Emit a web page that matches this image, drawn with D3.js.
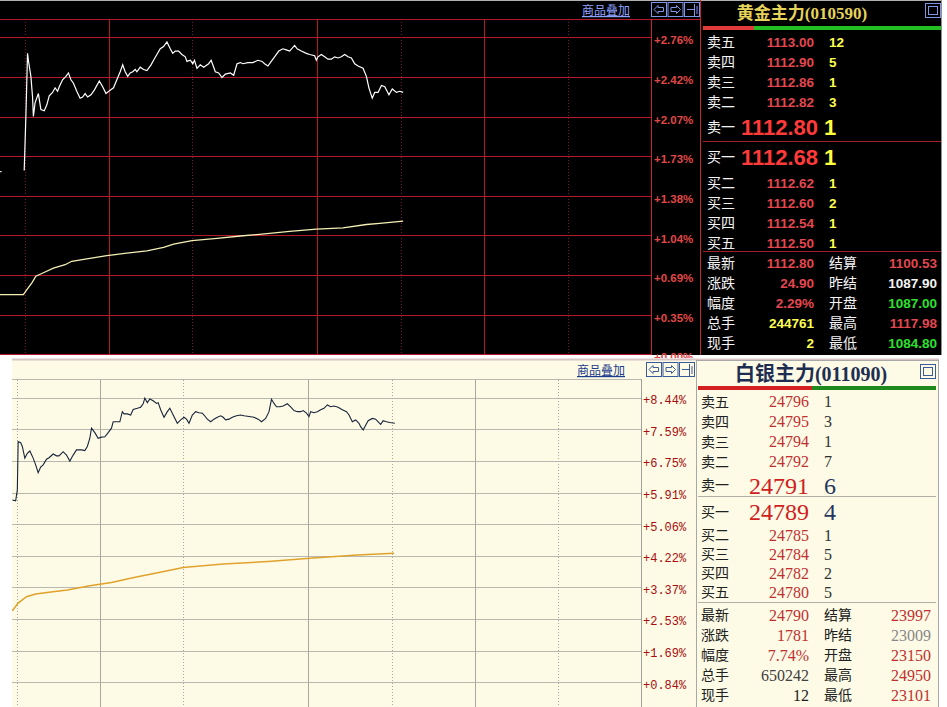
<!DOCTYPE html>
<html><head><meta charset="utf-8">
<script src="https://cdn.jsdelivr.net/npm/d3@7"></script>
<style>body{margin:0;background:#fff;overflow:hidden}svg{display:block}</style>
</head><body>
<svg id="c" width="947" height="707"></svg>
<script>
// ================= DATA =================
const timeDomain = [0, 780];
const majorTimes = [130, 380, 580];
const minorTimes = [30, 230, 480, 680];

// 黄金主力 (gold) – percent change vs. previous settlement
const goldTickValues = [0, 0.345, 0.69, 1.035, 1.38, 1.725, 2.07, 2.415, 2.76];
const goldTickLabels = ["+0.00%","+0.35%","+0.69%","+1.04%","+1.38%","+1.73%","+2.07%","+2.42%","+2.76%"];
const goldPre = [[0,1.59],[2,1.59]];
const goldPrice = [[29,1.60],[31,2.07],[33,2.62],[34,2.56],[37,2.42],[39,2.24],[40,2.07],[42,2.19],[46,2.27],[49,2.13],[53,2.12],[56,2.17],[59,2.25],[63,2.28],[66,2.32],[69,2.29],[71,2.33],[75,2.39],[79,2.42],[82,2.45],[85,2.39],[88,2.36],[92,2.29],[96,2.23],[99,2.24],[102,2.27],[105,2.24],[109,2.26],[113,2.30],[119,2.38],[123,2.33],[127,2.27],[132,2.30],[136,2.32],[140,2.39],[144,2.46],[147,2.52],[150,2.46],[153,2.42],[156,2.45],[159,2.46],[162,2.48],[164,2.46],[168,2.50],[172,2.48],[176,2.47],[181,2.52],[184,2.56],[188,2.61],[192,2.66],[196,2.68],[200,2.72],[204,2.66],[207,2.62],[210,2.64],[214,2.64],[218,2.61],[222,2.59],[224,2.55],[228,2.56],[231,2.53],[233,2.56],[236,2.49],[240,2.52],[244,2.50],[250,2.53],[253,2.56],[258,2.46],[262,2.45],[266,2.41],[270,2.44],[276,2.45],[280,2.43],[284,2.53],[288,2.54],[291,2.53],[297,2.54],[303,2.54],[309,2.56],[314,2.55],[317,2.53],[321,2.51],[325,2.55],[329,2.59],[334,2.64],[339,2.66],[343,2.65],[347,2.64],[353,2.69],[356,2.66],[361,2.64],[367,2.62],[371,2.61],[377,2.60],[379,2.56],[381,2.59],[385,2.61],[389,2.59],[393,2.57],[397,2.57],[401,2.59],[405,2.58],[409,2.59],[413,2.61],[417,2.59],[421,2.58],[425,2.53],[429,2.51],[435,2.49],[439,2.42],[442,2.32],[446,2.23],[449,2.28],[453,2.28],[457,2.34],[461,2.33],[466,2.26],[470,2.31],[475,2.28],[479,2.29],[483,2.28]];
const goldAvg = [[0,0.52],[28,0.52],[32,0.56],[38,0.62],[43,0.68],[52,0.71],[64,0.75],[78,0.78],[86,0.81],[104,0.83],[128,0.86],[152,0.88],[176,0.90],[196,0.93],[208,0.96],[230,0.99],[260,1.01],[288,1.03],[320,1.05],[347,1.07],[379,1.09],[411,1.10],[439,1.13],[455,1.14],[483,1.16]];

const goldName = "黄金主力(010590)";
const goldAskLabels = ["卖五","卖四","卖三","卖二"];
const goldAskPrices = ["1113.00","1112.90","1112.86","1112.82"];
const goldAskVols = ["12","5","1","3"];
const goldAsk1 = ["卖一","1112.80","1"];
const goldBid1 = ["买一","1112.68","1"];
const goldBidLabels = ["买二","买三","买四","买五"];
const goldBidPrices = ["1112.62","1112.60","1112.54","1112.50"];
const goldBidVols = ["1","2","1","1"];
const goldStatLabelsL = ["最新","涨跌","幅度","总手","现手"];
const goldStatValuesL = ["1112.80","24.90","2.29%","244761","2"];
const goldStatLabelsR = ["结算","昨结","开盘","最高","最低"];
const goldStatValuesR = ["1100.53","1087.90","1087.00","1117.98","1084.80"];

// 白银主力 (silver)
const silverTickValues = [0.844,1.688,2.532,3.376,4.22,5.064,5.908,6.752,7.596,8.44];
const silverTickLabels = ["+0.84%","+1.69%","+2.53%","+3.37%","+4.22%","+5.06%","+5.91%","+6.75%","+7.59%","+8.44%"];
const silverPrice = [[25,5.71],[29,5.69],[31,5.98],[32,7.27],[35,7.24],[37,7.14],[40,6.83],[43,6.96],[46,7.02],[50,6.83],[53,6.65],[56,6.44],[59,6.59],[62,6.65],[66,6.80],[69,6.84],[74,6.94],[78,6.89],[81,6.89],[86,7.00],[90,6.91],[94,6.75],[98,6.91],[102,7.05],[108,7.05],[112,7.03],[115,7.14],[118,7.36],[120,7.63],[124,7.51],[128,7.36],[132,7.39],[136,7.40],[140,7.51],[144,7.63],[146,7.80],[150,7.80],[154,7.80],[157,8.07],[159,8.01],[163,8.01],[167,7.98],[170,8.13],[175,8.16],[179,8.19],[182,8.28],[184,8.43],[187,8.31],[190,8.41],[194,8.36],[198,8.29],[200,8.31],[203,8.12],[207,7.92],[211,8.07],[214,8.16],[218,7.98],[223,7.76],[227,7.85],[231,7.92],[234,7.87],[237,7.76],[241,7.98],[245,8.07],[249,8.04],[253,8.03],[255,7.98],[259,7.87],[263,7.80],[267,7.87],[271,7.92],[275,7.96],[278,7.92],[281,7.85],[285,7.87],[289,7.92],[294,7.96],[299,7.98],[303,7.96],[309,7.94],[315,7.92],[320,7.87],[324,7.80],[329,7.89],[333,8.07],[336,8.40],[339,8.29],[342,8.20],[346,8.20],[350,8.22],[355,8.28],[359,8.20],[363,8.10],[367,8.07],[371,8.07],[374,8.10],[378,8.03],[381,7.94],[383,8.07],[387,8.04],[391,8.07],[395,8.12],[399,8.16],[403,8.25],[407,8.20],[411,8.22],[416,8.19],[421,8.12],[426,8.07],[429,7.98],[433,7.80],[437,7.85],[441,7.76],[443,7.67],[446,7.58],[449,7.71],[452,7.83],[457,7.89],[461,7.87],[464,7.80],[467,7.73],[470,7.83],[474,7.80],[478,7.78],[484,7.76]];
const silverAvg = [[25,2.75],[32,2.96],[42,3.13],[53,3.20],[69,3.25],[91,3.31],[118,3.42],[144,3.51],[171,3.64],[198,3.76],[230,3.91],[278,4.00],[332,4.07],[386,4.16],[439,4.24],[483,4.29]];

const silverName = "白银主力(011090)";
const silverAskLabels = ["卖五","卖四","卖三","卖二"];
const silverAskPrices = ["24796","24795","24794","24792"];
const silverAskVols = ["1","3","1","7"];
const silverAsk1 = ["卖一","24791","6"];
const silverBid1 = ["买一","24789","4"];
const silverBidLabels = ["买二","买三","买四","买五"];
const silverBidPrices = ["24785","24784","24782","24780"];
const silverBidVols = ["1","5","2","5"];
const silverStatLabelsL = ["最新","涨跌","幅度","总手","现手"];
const silverStatValuesL = ["24790","1781","7.74%","650242","12"];
const silverStatLabelsR = ["结算","昨结","开盘","最高","最低"];
const silverStatValuesR = ["23997","23009","23150","24950","23101"];

// ================= DRAW =================
const svg = d3.select("#c");
const CJK = "'Noto Sans CJK SC','Noto Sans',sans-serif";
const SANS = "'Liberation Sans',Arial,sans-serif";
const SERIF = "'Liberation Serif','Times New Roman',serif";
const MONO = "'Liberation Mono','DejaVu Sans Mono',monospace";

function icons(g, x, y, stroke, bg) {
  for (let i = 0; i < 3; i++) {
    const bx = x + i * 16.5;
    g.append("rect").attr("x", bx + 0.5).attr("y", y + 0.5).attr("width", 15).attr("height", 14)
      .attr("fill", bg).attr("stroke", stroke).attr("stroke-width", 1);
    let p;
    if (i === 0) p = `M${bx+3},${y+7.5} L${bx+7},${y+3.5} L${bx+7},${y+5.5} L${bx+12.5},${y+5.5} L${bx+12.5},${y+9.5} L${bx+7},${y+9.5} L${bx+7},${y+11.5} Z`;
    else if (i === 1) p = `M${bx+13},${y+7.5} L${bx+9},${y+3.5} L${bx+9},${y+5.5} L${bx+3.5},${y+5.5} L${bx+3.5},${y+9.5} L${bx+9},${y+9.5} L${bx+9},${y+11.5} Z`;
    else p = `M${bx+3},${y+7.5} L${bx+10},${y+7.5} M${bx+10.5},${y+2} L${bx+10.5},${y+14} M${bx+13},${y+4} L${bx+13},${y+12}`;
    g.append("path").attr("d", p).attr("fill", "none").attr("stroke", stroke).attr("stroke-width", 1);
  }
}

// ---------- TOP PANEL (gold, black) ----------
const topG = svg.append("g");
topG.append("rect").attr("x", 0).attr("y", 0).attr("width", 942).attr("height", 355).attr("fill", "#000");
topG.append("line").attr("x1", 0).attr("x2", 942).attr("y1", 0.5).attr("y2", 0.5).attr("stroke", "#b0b0b0");

const gx = d3.scaleLinear().domain(timeDomain).range([0, 651]);
const gy = d3.scaleLinear().domain([0, 2.76]).range([354.3, 37.3]);

const defs = svg.append("defs");
defs.append("clipPath").attr("id", "gclip")
  .append("rect").attr("x", 0).attr("y", 19).attr("width", 651).attr("height", 336);
defs.append("clipPath").attr("id", "gclip2")
  .append("rect").attr("x", 0).attr("y", 0).attr("width", 703).attr("height", 355);
defs.append("clipPath").attr("id", "sclip")
  .append("rect").attr("x", 12).attr("y", 379).attr("width", 630).attr("height", 328);

const RED = "#b4182a";
const gGrid = topG.append("g").attr("clip-path", "url(#gclip2)");
gGrid.selectAll(".h").data(goldTickValues).join("line")
  .attr("x1", 0).attr("x2", 651).attr("y1", d => Math.round(gy(d)) + 0.5).attr("y2", d => Math.round(gy(d)) + 0.5)
  .attr("stroke", RED).attr("stroke-width", 1);
gGrid.selectAll(".vmaj").data(majorTimes).join("line")
  .attr("x1", d => Math.round(gx(d)) + 0.5).attr("x2", d => Math.round(gx(d)) + 0.5).attr("y1", 19).attr("y2", 355)
  .attr("stroke", RED);
gGrid.selectAll(".vmin").data(minorTimes).join("line")
  .attr("x1", d => Math.round(gx(d)) + 0.5).attr("x2", d => Math.round(gx(d)) + 0.5).attr("y1", 19).attr("y2", 355)
  .attr("stroke", "#801424").attr("stroke-dasharray", "1,2");
topG.append("line").attr("x1", 0).attr("x2", 700).attr("y1", 19.5).attr("y2", 19.5).attr("stroke", RED);
topG.append("line").attr("x1", 651.5).attr("x2", 651.5).attr("y1", 19).attr("y2", 355).attr("stroke", "#c82234");
topG.append("line").attr("x1", 700.5).attr("x2", 700.5).attr("y1", 0).attr("y2", 355).attr("stroke", "#c82234");

// axis labels (right)
const gAxis = d3.axisRight(gy).tickValues(goldTickValues).tickFormat((d, i) => goldTickLabels[i]).tickSize(0).tickPadding(0);
const gAxisG = topG.append("g").attr("transform", "translate(654,3)").attr("clip-path", "url(#gclip2)").call(gAxis);
gAxisG.select(".domain").remove();
gAxisG.selectAll("text").attr("fill", "#e04848").attr("font-family", SANS).attr("font-weight", "bold")
  .attr("font-size", "11.5px").attr("x", 0).attr("text-anchor", "start");

// lines
const gLine = d3.line().x(d => gx(d[0])).y(d => gy(d[1]));
const gPlot = topG.append("g").attr("clip-path", "url(#gclip)");
gPlot.append("path").datum(goldAvg).attr("d", gLine).attr("fill", "none").attr("stroke", "#f4efb4").attr("stroke-width", 1.3);
gPlot.append("path").datum(goldPre).attr("d", gLine).attr("fill", "none").attr("stroke", "#ddd").attr("stroke-width", 1.3);
gPlot.append("path").datum(goldPrice).attr("d", gLine).attr("fill", "none").attr("stroke", "#fff").attr("stroke-width", 1.2);

// header
topG.append("text").attr("x", 582).attr("y", 15).text("商品叠加")
  .attr("font-family", CJK).attr("font-size", "12px").attr("fill", "#8fa2ff").attr("text-decoration", "underline");
icons(topG, 651, 2, "#7f96e8", "#000");

// ---------- generic quote panel ----------
function quotePanel(g, cfg, d) {
  g.append("text").attr("x", cfg.titleX).attr("y", cfg.titleY).text(d.name)
    .attr("font-family", SERIF + "," + CJK).attr("font-weight", "bold").attr("font-size", cfg.titleSize + "px")
    .attr("fill", cfg.titleColor).attr("text-anchor", "middle");
  g.append("rect").attr("x", cfg.boxX + 0.5).attr("y", cfg.boxY + 0.5).attr("width", 15).attr("height", 14)
    .attr("fill", "none").attr("stroke", cfg.boxColor);
  g.append("rect").attr("x", cfg.boxX + 3.5).attr("y", cfg.boxY + 3.5).attr("width", 9).attr("height", 8)
    .attr("fill", "none").attr("stroke", cfg.boxColor);
  g.append("rect").attr("x", cfg.left).attr("y", cfg.barY).attr("width", cfg.barSplit - cfg.left).attr("height", 4).attr("fill", cfg.barRed);
  g.append("rect").attr("x", cfg.barSplit).attr("y", cfg.barY).attr("width", cfg.right - cfg.barSplit).attr("height", 4).attr("fill", cfg.barGreen);

  const lab = (x, y, t, c) => g.append("text").attr("x", x).attr("y", y).attr("dy", "0.36em").text(t)
    .attr("font-family", CJK).attr("font-size", "14px").attr("fill", c);
  const num = (x, y, t, c, size, anchor, weight) => g.append("text").attr("x", x).attr("y", y).attr("dy", "0.36em").text(t)
    .attr("font-family", cfg.numFont).attr("font-weight", weight).attr("font-size", size + "px")
    .attr("fill", c).attr("text-anchor", anchor);

  d.askLabels.forEach((t, i) => {
    const y = cfg.askY + i * cfg.step;
    lab(cfg.labX, y, t, cfg.labColor);
    num(cfg.priceR, y, d.askPrices[i], cfg.priceColor, cfg.numSize, "end", cfg.numWeight);
    num(cfg.volX, y, d.askVols[i], cfg.volColor, cfg.numSize, "start", cfg.numWeight);
  });
  lab(cfg.labX, cfg.ask1Y, d.ask1[0], cfg.labColor);
  num(cfg.bigPriceR, cfg.ask1Y, d.ask1[1], cfg.bigPriceColor, cfg.bigSize, "end", cfg.bigWeight);
  num(cfg.bigVolX, cfg.ask1Y, d.ask1[2], cfg.bigVolColor, cfg.bigSize, "start", cfg.bigWeight);
  g.append("line").attr("x1", cfg.left).attr("x2", cfg.right).attr("y1", cfg.sep1).attr("y2", cfg.sep1).attr("stroke", cfg.sepColor);
  lab(cfg.labX, cfg.bid1Y, d.bid1[0], cfg.labColor);
  num(cfg.bigPriceR, cfg.bid1Y, d.bid1[1], cfg.bigPriceColor, cfg.bigSize, "end", cfg.bigWeight);
  num(cfg.bigVolX, cfg.bid1Y, d.bid1[2], cfg.bigVolColor, cfg.bigSize, "start", cfg.bigWeight);
  d.bidLabels.forEach((t, i) => {
    const y = cfg.bidY + i * cfg.bidStep;
    lab(cfg.labX, y, t, cfg.labColor);
    num(cfg.priceR, y, d.bidPrices[i], cfg.priceColor, cfg.numSize, "end", cfg.numWeight);
    num(cfg.volX, y, d.bidVols[i], cfg.volColor, cfg.numSize, "start", cfg.numWeight);
  });
  g.append("line").attr("x1", cfg.left).attr("x2", cfg.right).attr("y1", cfg.sep2).attr("y2", cfg.sep2).attr("stroke", cfg.sepColor);
  d.statL.forEach((t, i) => {
    const y = cfg.statY + i * cfg.step;
    lab(cfg.labX, y, t, cfg.labColor);
    num(cfg.priceR, y, d.statValL[i], cfg.statColorsL[i], cfg.numSize, "end", cfg.numWeight);
    lab(cfg.volX, y, d.statR[i], cfg.labColor);
    num(cfg.statR, y, d.statValR[i], cfg.statColorsR[i], cfg.numSize, "end", cfg.numWeight);
  });
}

// gold quote panel
const gq = svg.append("g");
gq.append("line").attr("x1", 941.5).attr("x2", 941.5).attr("y1", 0).attr("y2", 355).attr("stroke", "#909090");
quotePanel(gq, {
  titleX: 802, titleY: 19, titleSize: 17, titleColor: "#e6d35a",
  boxX: 925, boxY: 3, boxColor: "#7f96e8",
  left: 703, right: 941, barY: 26, barSplit: 754, barRed: "#e03a3a", barGreen: "#22c022",
  labX: 707, labColor: "#f4f4f4", numFont: SANS, numWeight: "bold", numSize: 13.5,
  priceR: 814, volX: 829, priceColor: "#e3474f", volColor: "#ffff50",
  bigPriceR: 818, bigVolX: 824, bigSize: 22, bigWeight: "bold", bigPriceColor: "#ff3a3a", bigVolColor: "#ffff40",
  askY: 42, step: 20, ask1Y: 127, sep1: 141.5, bid1Y: 157, bidY: 182.7, bidStep: 20, sep2: 251.5,
  sepColor: "#a02028", statY: 263.3, statR: 937,
  statColorsL: ["#e3474f","#e3474f","#e3474f","#ffff50","#ffff50"],
  statColorsR: ["#e3474f","#f4f4f4","#2ee02e","#e3474f","#2ee02e"]
}, {
  name: goldName, askLabels: goldAskLabels, askPrices: goldAskPrices, askVols: goldAskVols,
  ask1: goldAsk1, bid1: goldBid1, bidLabels: goldBidLabels, bidPrices: goldBidPrices, bidVols: goldBidVols,
  statL: goldStatLabelsL, statValL: goldStatValuesL, statR: goldStatLabelsR, statValR: goldStatValuesR
});

// ---------- BOTTOM PANEL (silver, light) ----------
const bot = svg.append("g");
const BG = "#fdfbe6";
bot.append("rect").attr("x", 12).attr("y", 359).attr("width", 927).attr("height", 348).attr("fill", BG);
bot.append("line").attr("x1", 12).attr("x2", 939).attr("y1", 359.5).attr("y2", 359.5).attr("stroke", "#d8c4c4").attr("stroke-width", 2);

const sx = d3.scaleLinear().domain(timeDomain).range([-8.5, 641.5]);
const sy = d3.scaleLinear().domain([0, 8.44]).range([713.9, 397.8]);

const GRID = "#b8b8b0";
const sGrid = bot.append("g");
sGrid.append("line").attr("x1", 12).attr("x2", 642).attr("y1", 379.5).attr("y2", 379.5).attr("stroke", GRID);
sGrid.selectAll(".h").data(silverTickValues).join("line")
  .attr("x1", 12).attr("x2", 642).attr("y1", d => Math.round(sy(d)) + 0.5).attr("y2", d => Math.round(sy(d)) + 0.5)
  .attr("stroke", GRID);
sGrid.selectAll(".vmaj").data(majorTimes).join("line")
  .attr("x1", d => Math.round(sx(d)) + 0.5).attr("x2", d => Math.round(sx(d)) + 0.5).attr("y1", 380).attr("y2", 707)
  .attr("stroke", "#a8a8a0");
sGrid.selectAll(".vmin").data(minorTimes).join("line")
  .attr("x1", d => Math.round(sx(d)) + 0.5).attr("x2", d => Math.round(sx(d)) + 0.5).attr("y1", 380).attr("y2", 707)
  .attr("stroke", "#a8a8a0").attr("stroke-dasharray", "1,2");
bot.append("line").attr("x1", 641.5).attr("x2", 641.5).attr("y1", 379).attr("y2", 707).attr("stroke", "#a0a0a0");

const sAxis = d3.axisRight(sy).tickValues(silverTickValues).tickFormat((d, i) => silverTickLabels[i]).tickSize(0).tickPadding(0);
const sAxisG = bot.append("g").attr("transform", "translate(643,2)").call(sAxis);
sAxisG.select(".domain").remove();
sAxisG.selectAll("text").attr("fill", "#a80c0c").attr("font-family", MONO)
  .attr("font-size", "12px").attr("x", 0).attr("text-anchor", "start");

const sLine = d3.line().x(d => sx(d[0])).y(d => sy(d[1]));
const sPlot = bot.append("g").attr("clip-path", "url(#sclip)");
sPlot.append("path").datum(silverAvg).attr("d", sLine).attr("fill", "none").attr("stroke", "#e0a22c").attr("stroke-width", 1.5);
sPlot.append("path").datum(silverPrice).attr("d", sLine).attr("fill", "none").attr("stroke", "#18243c").attr("stroke-width", 1.1);

bot.append("text").attr("x", 577).attr("y", 375).text("商品叠加")
  .attr("font-family", CJK).attr("font-size", "12px").attr("fill", "#1c3c8c").attr("text-decoration", "underline");
icons(bot, 646, 362, "#3a5a9a", BG);

// silver quote panel
const sq = svg.append("g");
sq.append("rect").attr("x", 696.5).attr("y", 360.5).attr("width", 242).attr("height", 350)
  .attr("fill", BG).attr("stroke", "#a8a8a8");
quotePanel(sq, {
  titleX: 811, titleY: 381, titleSize: 20, titleColor: "#1e2e52",
  boxX: 920, boxY: 364, boxColor: "#3a5a9a",
  left: 698, right: 936, barY: 386, barSplit: 812, barRed: "#d42020", barGreen: "#1e8a1e",
  labX: 701, labColor: "#202020", numFont: SERIF, numWeight: "normal", numSize: 16,
  priceR: 809, volX: 824, priceColor: "#c03030", volColor: "#303030",
  bigPriceR: 809, bigVolX: 824, bigSize: 24, bigWeight: "normal", bigPriceColor: "#d02020", bigVolColor: "#26365e",
  askY: 401.7, step: 20, ask1Y: 485, sep1: 496.5, bid1Y: 511.7, bidY: 535, bidStep: 19, sep2: 602.5,
  sepColor: "#b0b0a8", statY: 615, statR: 931,
  statColorsL: ["#c03030","#c03030","#c03030","#404040","#202020"],
  statColorsR: ["#c03030","#888888","#c03030","#c03030","#c03030"]
}, {
  name: silverName, askLabels: silverAskLabels, askPrices: silverAskPrices, askVols: silverAskVols,
  ask1: silverAsk1, bid1: silverBid1, bidLabels: silverBidLabels, bidPrices: silverBidPrices, bidVols: silverBidVols,
  statL: silverStatLabelsL, statValL: silverStatValuesL, statR: silverStatLabelsR, statValR: silverStatValuesR
});
</script>
</body></html>
